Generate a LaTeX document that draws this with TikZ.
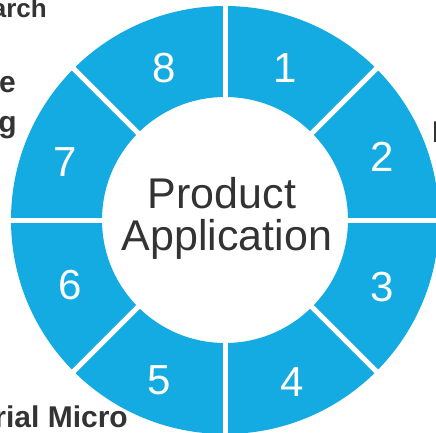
\documentclass[tikz,border=0pt]{standalone}
\usepackage{fontspec}
\setmainfont{Liberation Sans}
\definecolor{ringblue}{RGB}{20,170,226}
\definecolor{textgray}{RGB}{51,51,51}
\begin{document}
\begin{tikzpicture}[x=1pt,y=1pt]
        \useasboundingbox (0,0) rectangle (436,432);
        \clip (0,0) rectangle (436,432);
        \coordinate (c) at (225,212);
        \fill[ringblue, even odd rule] (c) circle (214pt) (c) circle (123pt);
        \foreach \a in {0,45,...,315}
          \draw[white, line width=5pt] (c) ++(\a:118pt) -- ++(\a:100pt);
        % numbers on the ring
        \node[white, font=\fontsize{42}{42}\selectfont] (n1) at (285,364) {1};
        \node[white, font=\fontsize{42}{42}\selectfont] (n2) at (382,275) {2};
        \node[white, font=\fontsize{42}{42}\selectfont] (n3) at (382,145) {3};
        \node[white, font=\fontsize{42}{42}\selectfont] (n4) at (292,50) {4};
        \node[white, font=\fontsize{42}{42}\selectfont] (n5) at (159,52) {5};
        \node[white, font=\fontsize{42}{42}\selectfont] (n6) at (70,147) {6};
        \node[white, font=\fontsize{42}{42}\selectfont] (n7) at (65,270) {7};
        \node[white, font=\fontsize{42}{42}\selectfont] (n8) at (164,364) {8};
        % centre text
        \node[textgray, anchor=base, inner sep=0pt, font=\fontsize{43}{43}\selectfont] (prod) at (222,224) {Product};
        \node[textgray, anchor=base, inner sep=0pt, font=\fontsize{43}{43}\selectfont] (appl) at (227,182) {Application};
        % cut-off labels round the ring
        \node[textgray, anchor=base east, inner sep=0pt, font=\bfseries\fontsize{26}{26}\selectfont] (research) at (47,414) {arch};
        \node[textgray, anchor=base east, inner sep=0pt, font=\bfseries\fontsize{30}{30}\selectfont] (lefte) at (16,339) {e};
        \node[textgray, anchor=base east, inner sep=0pt, font=\bfseries\fontsize{30}{30}\selectfont] (leftg) at (17,300) {g};
        \node[textgray, anchor=base east, inner sep=0pt, font=\bfseries\fontsize{30}{30}\selectfont] (micro) at (128,5) {rial Micro};
        \node[textgray, anchor=base west, inner sep=0pt, font=\bfseries\fontsize{30}{30}\selectfont] (righti) at (432,290) {I};
      \end{tikzpicture}
\end{document}
